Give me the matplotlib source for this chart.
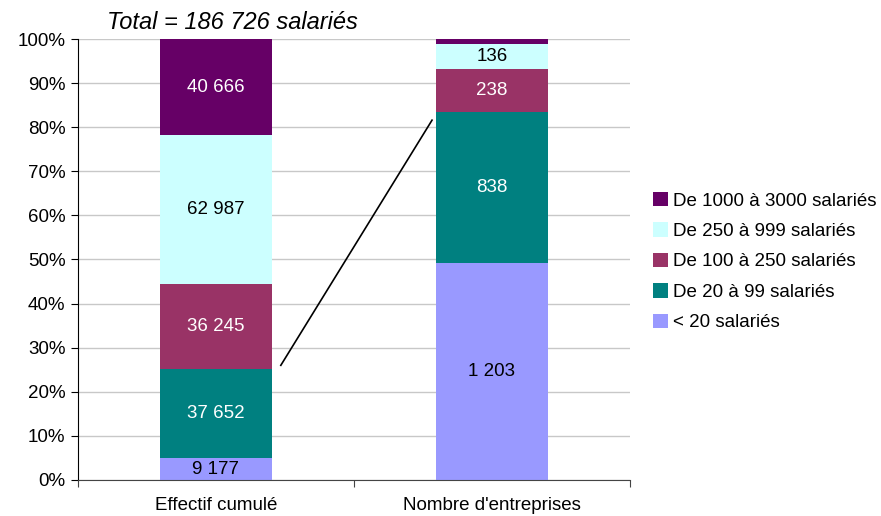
import matplotlib
matplotlib.use("Agg")
from matplotlib import pyplot as plt
from matplotlib.patches import Patch
import numpy as np

plt.rcParams['font.family'] = ['Liberation Sans', 'DejaVu Sans']

categories = ["Effectif cumulé", "Nombre d'entreprises"]
classes = ["< 20 salariés", "De 20 à 99 salariés", "De 100 à 250 salariés",
           "De 250 à 999 salariés", "De 1000 à 3000 salariés"]
effectif = [9177, 37652, 36245, 62987, 40666]
entreprises = [1203, 838, 238, 136, 29]
labels_effectif = ["9 177", "37 652", "36 245", "62 987", "40 666"]
labels_entreprises = ["1 203", "838", "238", "136", ""]
colors = ["#9999FF", "#008080", "#993366", "#CCFFFF", "#660066"]
text_colors = ["black", "white", "white", "black", "white"]

fig = plt.figure(figsize=(8.81, 5.16), dpi=100)
ax = fig.add_axes([0.0885, 0.0698, 0.6265, 0.8546])

data = np.array([effectif, entreprises], dtype=float)
shares = data / data.sum(axis=1, keepdims=True)
all_labels = [labels_effectif, labels_entreprises]
x = np.arange(len(categories))
bottom = np.zeros(len(categories))
for i in range(len(classes)):
    ax.bar(x, shares[:, i], 0.405, bottom=bottom, color=colors[i], zorder=2)
    for j in range(len(categories)):
        if all_labels[j][i]:
            ax.text(x[j], bottom[j] + shares[j, i] / 2, all_labels[j][i],
                    ha='center', va='center', fontsize=13.5, color=text_colors[i], zorder=3)
    bottom += shares[:, i]

# trait de liaison
ax.plot([0.235, 0.783], [0.26, 0.816], color='black', lw=1.2, zorder=3)

ax.set_xlim(-0.5, 1.5)
ax.set_ylim(0, 1)
ax.set_yticks(np.arange(0, 1.01, 0.1))
ax.set_yticklabels([f"{int(round(v*100))}%" for v in np.arange(0, 1.01, 0.1)], fontsize=13.5)
ax.yaxis.grid(True, color='#c8c8c8', lw=1, zorder=0)
ax.set_xticks([-0.5, 0.5, 1.5])
ax.set_xticklabels([])
ax.set_xticks(x, minor=True)
ax.set_xticklabels(categories, minor=True, fontsize=13.5)
ax.tick_params(axis='x', which='minor', length=0, pad=12)
ax.tick_params(axis='x', which='major', length=5, color='#444444')
ax.tick_params(axis='y', length=5, pad=4)
for s in ['top', 'right']:
    ax.spines[s].set_visible(False)
ax.spines['left'].set_color('black')
ax.spines['bottom'].set_color('#444444')

fig.text(0.264, 0.956, "Total = 186 726 salariés", ha='center', va='center',
         fontsize=17, style='italic')

handles = [Patch(facecolor=colors[i], label=classes[i]) for i in range(len(classes))][::-1]
fig.legend(handles=handles, loc='center left', bbox_to_anchor=(0.733, 0.493),
           frameon=False, fontsize=13.5, handlelength=0.8, handleheight=0.8,
           handletextpad=0.25, labelspacing=0.68, borderaxespad=0)

fig.savefig("out.png", dpi=100)
